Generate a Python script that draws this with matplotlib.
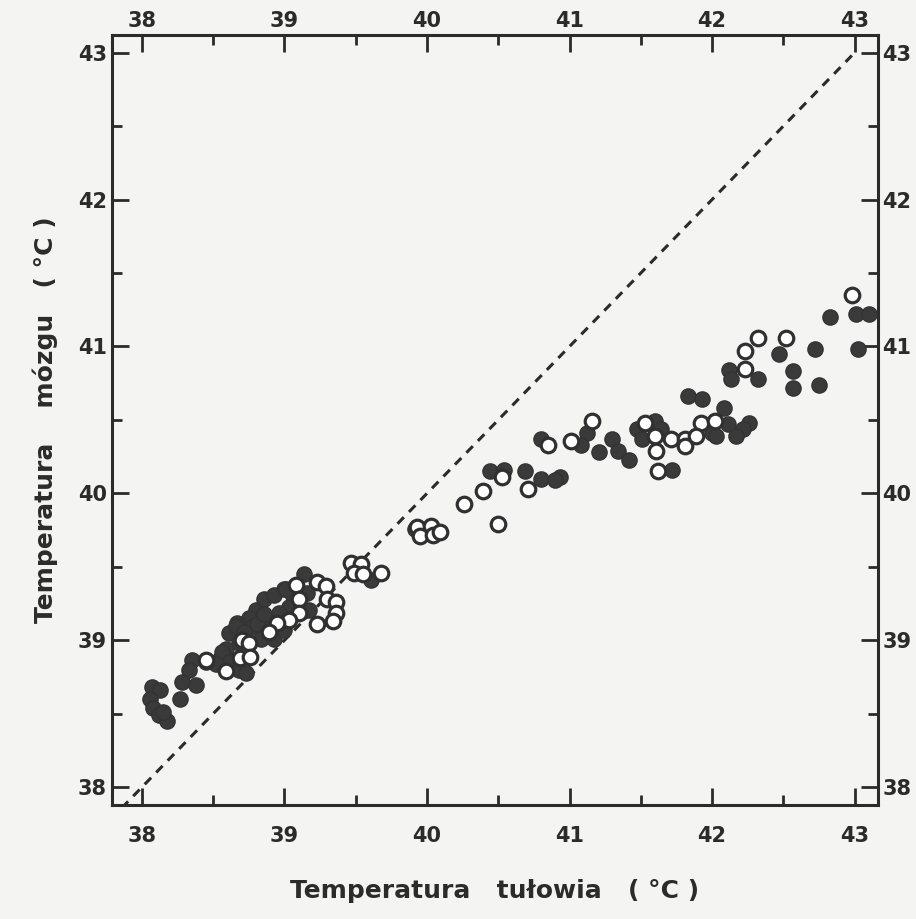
import matplotlib.pyplot as plt
import numpy as np

# temperatura tulowia (x) i mozgu (y), punkty pelne
full_x = [42.83, 43.01, 43.10, 42.47, 42.72, 43.02, 42.12, 42.13, 42.32, 42.57,
          42.57, 42.75, 41.83, 41.93, 42.08, 42.11, 42.26, 42.22, 42.00, 42.03,
          42.17, 41.12, 41.08, 41.21, 41.30, 41.34, 41.42, 41.47, 41.60, 41.51,
          41.64, 41.72, 40.93, 40.80, 40.44, 40.54, 40.69, 40.80, 40.90, 39.92,
          39.61, 39.14, 39.16, 39.06, 39.17, 39.03, 38.96, 38.88, 38.80, 38.75,
          38.77, 38.67, 38.61, 38.68, 38.66, 38.59, 38.63, 38.54, 38.56, 38.61,
          38.68, 38.73, 38.52, 38.45, 38.35, 38.33, 38.28, 38.38, 38.27, 38.07,
          38.13, 38.06, 38.08, 38.12, 38.18, 38.15, 38.86, 38.93, 39.00, 38.84,
          38.93, 39.00, 38.81, 38.86, 38.72, 39.01]
full_y = [41.20, 41.22, 41.22, 40.95, 40.98, 40.98, 40.84, 40.78, 40.78, 40.83,
          40.72, 40.74, 40.66, 40.64, 40.58, 40.47, 40.48, 40.44, 40.41, 40.39,
          40.39, 40.41, 40.33, 40.28, 40.37, 40.29, 40.23, 40.44, 40.49, 40.37,
          40.44, 40.16, 40.11, 40.37, 40.15, 40.16, 40.15, 40.10, 40.09, 39.76,
          39.41, 39.45, 39.32, 39.30, 39.21, 39.23, 39.19, 39.11, 39.21, 39.15,
          39.09, 39.12, 39.05, 38.98, 39.10, 38.94, 38.87, 38.87, 38.92, 38.85,
          38.80, 38.78, 38.84, 38.85, 38.87, 38.80, 38.72, 38.70, 38.60, 38.68,
          38.66, 38.60, 38.54, 38.49, 38.45, 38.51, 39.28, 39.31, 39.35, 39.01,
          39.01, 39.07, 39.11, 39.18, 39.06, 39.35]

# punkty puste
open_x = [42.98, 42.32, 42.52, 42.23, 42.23, 41.92, 42.02, 41.16, 41.01, 41.53,
          41.60, 41.61, 41.71, 41.81, 41.81, 41.89, 41.62, 40.85, 40.53, 40.71,
          40.39, 40.26, 40.50, 39.93, 40.03, 39.95, 40.04, 40.09, 39.47, 39.54,
          39.49, 39.55, 39.68, 39.08, 39.23, 39.29, 39.10, 39.30, 39.36, 39.36,
          39.34, 39.23, 39.10, 39.03, 38.95, 38.89, 38.70, 38.75, 38.69, 38.76,
          38.45, 38.59]
open_y = [41.35, 41.06, 41.06, 40.97, 40.85, 40.48, 40.49, 40.49, 40.36, 40.48,
          40.39, 40.29, 40.37, 40.37, 40.32, 40.39, 40.15, 40.33, 40.11, 40.03,
          40.02, 39.93, 39.79, 39.77, 39.78, 39.71, 39.72, 39.74, 39.53, 39.52,
          39.46, 39.45, 39.46, 39.38, 39.40, 39.37, 39.28, 39.28, 39.26, 39.19,
          39.13, 39.11, 39.19, 39.14, 39.12, 39.06, 39.00, 38.98, 38.88, 38.89,
          38.87, 38.79]

ticks = [38, 39, 40, 41, 42, 43]

ink = "#2b2b2b"
plt.rcParams['font.family'] = ['DejaVu Sans']
plt.rcParams['font.weight'] = 'bold'

fig = plt.figure(figsize=(9.16, 9.19), dpi=100, facecolor="#f4f4f2")
ax = fig.add_axes([0.122, 0.124, 0.836, 0.838])
ax.set_facecolor("#f4f4f2")

# linia y = x
ax.plot([37.86, 42.98], [37.86, 42.98], color=ink, lw=2.2, linestyle=(0, (3, 2.4)))

ax.scatter(full_x, full_y, s=120, color="#3a3a3a", edgecolor="#333333", linewidths=1, zorder=3)
ax.scatter(open_x, open_y, s=110, facecolor="white", edgecolor="#303030", linewidths=2.3, zorder=4)

ax.set_xlim(37.79, 43.16)
ax.set_ylim(37.88, 43.12)
ax.set_xticks(ticks)
ax.set_yticks(ticks)
ax.set_xticks(np.arange(38.5, 43, 1), minor=True)
ax.set_yticks(np.arange(38.5, 43, 1), minor=True)
ax.tick_params(which='both', direction='in', top=True, right=True,
               labeltop=True, labelright=True, color=ink, width=2)
ax.tick_params(which='major', length=12, labelsize=15)
ax.tick_params(which='minor', length=7)
ax.tick_params(axis='x', which='major', bottom=True, pad=14)
ax.tick_params(axis='x', which='major', top=True, pad=3)
ax.xaxis.set_tick_params(which='major', labelbottom=True)
for lab in ax.get_xticklabels():
    lab.set_color(ink)
for sp in ax.spines.values():
    sp.set_linewidth(2.2)
    sp.set_color(ink)
for lab in ax.get_yticklabels():
    lab.set_color(ink)
# odstep etykiet dolnych i gornych osobno
for t in ax.xaxis.get_major_ticks():
    t.label1.set_y(-0.022)
    t.label2.set_y(1.0)

ax.set_xlabel("Temperatura   tułowia   ( °C )", fontsize=18, fontweight='bold', color=ink, labelpad=24)
ax.set_ylabel("Temperatura    mózgu   ( °C )", fontsize=18, fontweight='bold', color=ink, labelpad=14)

fig.savefig("out.png", dpi=100, facecolor=fig.get_facecolor())
